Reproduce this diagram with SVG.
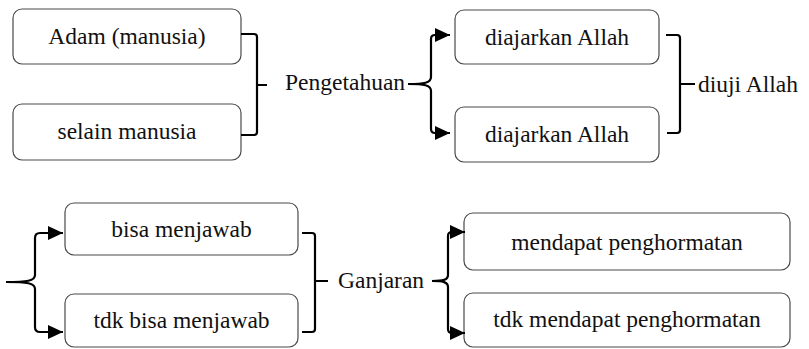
<svg xmlns="http://www.w3.org/2000/svg" width="809" height="349" viewBox="0 0 809 349">
  <style>
    .box { fill: #ffffff; stroke: #4a4a4a; stroke-width: 1.2; }
    .lbl { font-family: "Liberation Serif", "Times New Roman", serif; font-size: 23.5px; fill: #111; }
    .mid { text-anchor: middle; }
    .br { fill: none; stroke: #000; stroke-width: 2.2; stroke-linejoin: round; }
  </style>
  <defs>
    <marker id="arrow" markerUnits="userSpaceOnUse" markerWidth="16" markerHeight="16" refX="15" refY="7" orient="auto">
      <path d="M0,0 L15,7 L0,14 z" fill="#000"/>
    </marker>
  </defs>

  <rect width="809" height="349" fill="#ffffff"/>

  <!-- nodes -->
  <g id="n-adam">
    <rect class="box" x="13" y="9" width="228" height="55" rx="9"/>
    <text class="lbl mid" x="127" y="44">Adam (manusia)</text>
  </g>
  <g id="n-selain">
    <rect class="box" x="13" y="104" width="228" height="56" rx="9"/>
    <text class="lbl mid" x="127" y="139">selain manusia</text>
  </g>
  <g id="n-pengetahuan">
    <text class="lbl" x="285" y="90">Pengetahuan</text>
  </g>
  <g id="n-diajarkan1">
    <rect class="box" x="455" y="10" width="204" height="54" rx="9"/>
    <text class="lbl mid" x="557" y="45">diajarkan Allah</text>
  </g>
  <g id="n-diajarkan2">
    <rect class="box" x="455" y="107" width="204" height="55" rx="9"/>
    <text class="lbl mid" x="557" y="142">diajarkan Allah</text>
  </g>
  <g id="n-diuji">
    <text class="lbl" x="698" y="92">diuji Allah</text>
  </g>
  <g id="n-bisa">
    <rect class="box" x="65" y="203" width="233" height="52" rx="9"/>
    <text class="lbl mid" x="181.5" y="237">bisa menjawab</text>
  </g>
  <g id="n-tdkbisa">
    <rect class="box" x="65" y="294" width="233" height="53" rx="9"/>
    <text class="lbl mid" x="181.5" y="328">tdk bisa menjawab</text>
  </g>
  <g id="n-ganjaran">
    <text class="lbl" x="338" y="288">Ganjaran</text>
  </g>
  <g id="n-mendapat">
    <rect class="box" x="464" y="213" width="326" height="57" rx="9"/>
    <text class="lbl mid" x="627" y="250">mendapat penghormatan</text>
  </g>
  <g id="n-tdkmendapat">
    <rect class="box" x="464" y="293" width="326" height="54" rx="9"/>
    <text class="lbl mid" x="627" y="327">tdk mendapat penghormatan</text>
  </g>

  <!-- connectors: square brackets merge two nodes, curly braces split into two arrows -->
  <g id="connectors">
    <path class="br" d="M241,34 H254 Q257,34 257,37 V132 Q257,135 254,135 H241 M257,85 H267"/>
    <path class="br" d="M408,84 C424,84 431,83 431,77 V39 Q431,35 435,35 H450" marker-end="url(#arrow)"/>
    <path class="br" d="M408,84 C424,84 431,85 431,91 V129 Q431,133 435,133 H450" marker-end="url(#arrow)"/>
    <path class="br" d="M666,35 H677 Q680,35 680,38 V130 Q680,133 677,133 H667 M680,84 H695"/>
    <path class="br" d="M6,282 C27,282 35,281 35,275 V238 Q35,233 40,233 H63" marker-end="url(#arrow)"/>
    <path class="br" d="M6,282 C27,282 35,283 35,289 V327 Q35,332 40,332 H63" marker-end="url(#arrow)"/>
    <path class="br" d="M302,233 H312 Q315,233 315,236 V329 Q315,332 312,332 H302 M315,281 H328"/>
    <path class="br" d="M432,281 C443,281 448,280 448,275 V236 Q448,232 452,232 H465" marker-end="url(#arrow)"/>
    <path class="br" d="M432,281 C443,281 448,282 448,287 V329 Q448,333 452,333 H465" marker-end="url(#arrow)"/>
  </g>
</svg>
